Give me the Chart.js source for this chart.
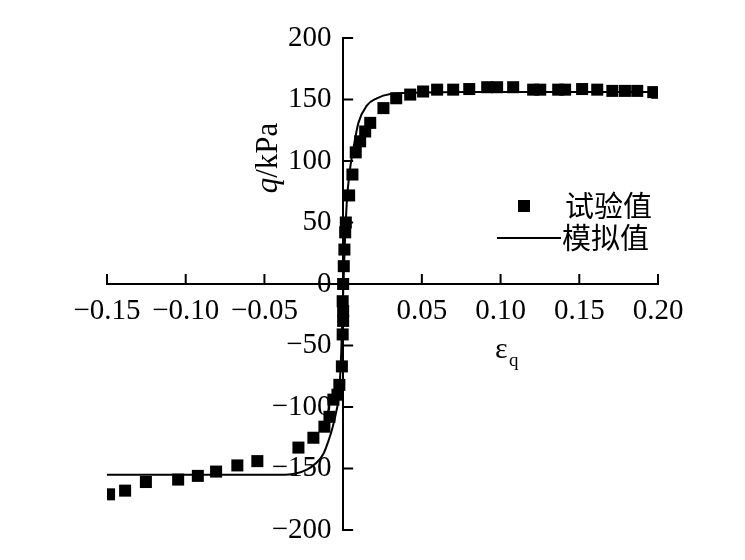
<!DOCTYPE html>
<html>
<head>
<meta charset="utf-8">
<script src="https://cdn.jsdelivr.net/npm/chart.js@4.4.1/dist/chart.umd.min.js"></script>
<style>
  html, body { margin: 0; padding: 0; background: #fff; }
  #wrap { width: 745px; height: 560px; }
</style>
</head>
<body>
<div id="wrap"><canvas id="qChart"></canvas></div>
<script>
// test points (strain, deviator stress)
const expStrain = [
    -0.1487, -0.1385, -0.1253, -0.1048, -0.0923, -0.0807, -0.0672, -0.0545,
    -0.0284, -0.0189, -0.0119, -0.0087, -0.0062, -0.0036, -0.0024, -0.0008,
    -0.0003, 0.0, 0.0, -0.0003, 0.0,
    0.0004, 0.0008, 0.0013, 0.0017, 0.0038, 0.0059, 0.0080, 0.0108, 0.0140,
    0.0172, 0.0256, 0.0337, 0.0426, 0.0508, 0.0597, 0.0699, 0.0801, 0.0915,
    0.0978, 0.1080, 0.1207, 0.1252, 0.1366, 0.1410, 0.1518, 0.1614, 0.1710,
    0.1790, 0.1868, 0.1970, 0.1995
]
const expStress = [
    -171, -168, -161, -159, -156, -152.5, -147.5, -144,
    -133, -125, -116, -108, -94, -90, -82, -67,
    -41, -30, -22, -14, 0,
    14.5, 28, 42, 50, 72, 89, 107, 116, 124,
    131, 143, 151, 154, 156.5, 158, 158, 158.5, 160,
    160, 160, 158, 158, 158, 158, 158.5, 158, 157,
    157, 157, 156, 155.5
]

// simulated curve
const simStrain = [
    -0.150, -0.100, -0.060, -0.040, -0.030, -0.023, -0.0175, -0.0125, -0.0092,
    -0.0068, -0.0044, -0.0025, -0.0012, 0.0, 0.0010, 0.0023, 0.0040, 0.0065,
    0.0097, 0.0150, 0.0214, 0.0300, 0.0450, 0.0800, 0.2000
]
const simStress = [
    -155, -155, -155, -155, -154, -151, -146, -138, -127,
    -117, -104, -88, -55, -8, 30, 66, 90, 110,
    131, 145, 151, 154.5, 155.5, 156, 156
]

const xTicks = [-0.15, -0.10, -0.05, 0, 0.05, 0.10, 0.15, 0.20]
const yTicks = [-200, -150, -100, -50, 0, 50, 100, 150, 200]

const legendLabels = ['试验值', '模拟值']

const serif = '"Liberation Serif", "DejaVu Serif", serif'
const cjk = '"Noto Sans CJK SC", sans-serif'

function minus(s) {
    return s.replace('-', '\u2212')
}

// inward ticks, axis titles and legend
const decorations = {
    id: 'decorations',
    afterDraw(chart) {
        const ctx = chart.ctx
        const xs = chart.scales.x
        const ys = chart.scales.y
        const x0 = xs.getPixelForValue(0)
        const y0 = ys.getPixelForValue(0)
        ctx.save()
        ctx.strokeStyle = '#000'
        ctx.lineWidth = 2
        ctx.beginPath()
        xTicks.forEach(function (v) {
            const px = xs.getPixelForValue(v)
            ctx.moveTo(px, y0)
            ctx.lineTo(px, y0 - 10)
        })
        yTicks.forEach(function (v) {
            const py = ys.getPixelForValue(v)
            ctx.moveTo(x0, py)
            ctx.lineTo(x0 + 10, py)
        })
        ctx.stroke()

        // y title: q/kPa
        ctx.fillStyle = '#000'
        ctx.translate(277, 158)
        ctx.rotate(-Math.PI / 2)
        ctx.textBaseline = 'alphabetic'
        ctx.font = 'italic 31px ' + serif
        const wq = ctx.measureText('q').width
        ctx.font = '31px ' + serif
        const wRest = ctx.measureText('/kPa').width
        let sx = -(wq + wRest) / 2
        ctx.font = 'italic 31px ' + serif
        ctx.fillText('q', sx, 0)
        ctx.font = '31px ' + serif
        ctx.fillText('/kPa', sx + wq, 0)
        ctx.restore()

        // x title: epsilon_q
        ctx.save()
        ctx.fillStyle = '#000'
        ctx.font = '30px ' + serif
        ctx.textBaseline = 'alphabetic'
        ctx.fillText('\u03b5', 495, 358)
        ctx.font = '19px ' + serif
        ctx.fillText('q', 509, 366)

        // legend
        const lx = 524
        const ly1 = 206
        const ly2 = 238
        ctx.fillRect(lx - 6, ly1 - 6, 12, 12)
        ctx.lineWidth = 2
        ctx.beginPath()
        ctx.moveTo(497, ly2)
        ctx.lineTo(561, ly2)
        ctx.stroke()
        ctx.font = '29px ' + cjk
        ctx.textBaseline = 'middle'
        ctx.fillText(legendLabels[0], 565, ly1)
        ctx.fillText(legendLabels[1], 562, ly2)
        ctx.restore()
    }
}

window.onload = function () {
    'use strict'

    const expPoints = expStrain.map(function (x, i) {
        return {x: x, y: expStress[i]}
    })
    const simPoints = simStrain.map(function (x, i) {
        return {x: x, y: simStress[i]}
    })

    const ctx = document.getElementById('qChart')
    // eslint-disable-next-line no-unused-vars
    const myChart = new Chart(ctx, {
        type: 'scatter',
        data: {
            datasets: [{
                label: legendLabels[1],
                data: simPoints,
                showLine: true,
                cubicInterpolationMode: 'monotone',
                borderColor: '#000',
                borderWidth: 2,
                pointRadius: 0,
                order: 2
            }, {
                label: legendLabels[0],
                data: expPoints,
                pointStyle: 'rect',
                pointRadius: 8.5,
                backgroundColor: '#000',
                borderColor: '#000',
                borderWidth: 0,
                order: 1
            }]
        },
        plugins: [decorations],
        options: {
            responsive: true,
            maintainAspectRatio: false,
            animation: false,
            layout: {
                padding: {left: 107, right: 87, top: 38, bottom: 30}
            },
            plugins: {
                legend: {display: false},
                tooltip: {enabled: false}
            },
            scales: {
                x: {
                    type: 'linear',
                    position: {y: 0},
                    min: -0.15,
                    max: 0.20,
                    afterBuildTicks: function (axis) {
                        axis.ticks = xTicks.map(function (v) { return {value: v} })
                    },
                    grid: {drawOnChartArea: false, drawTicks: false},
                    border: {color: '#000', width: 2},
                    ticks: {
                        autoSkip: false,
                        maxRotation: 0,
                        padding: 10,
                        color: '#000',
                        font: {family: serif, size: 29},
                        callback: function (v) {
                            if (v === 0) return ''
                            return minus(v.toFixed(2))
                        }
                    }
                },
                y: {
                    type: 'linear',
                    position: {x: 0},
                    min: -200,
                    max: 200,
                    afterBuildTicks: function (axis) {
                        axis.ticks = yTicks.map(function (v) { return {value: v} })
                    },
                    grid: {drawOnChartArea: false, drawTicks: false},
                    border: {color: '#000', width: 2},
                    ticks: {
                        autoSkip: false,
                        color: '#000',
                        font: {family: serif, size: 29},
                        // labels sit a little left of the axis line
                        callback: function (v) {
                            return minus(String(v)) + '\u2009\u2009'
                        }
                    }
                }
            }
        }
    })
}
</script>
</body>
</html>
